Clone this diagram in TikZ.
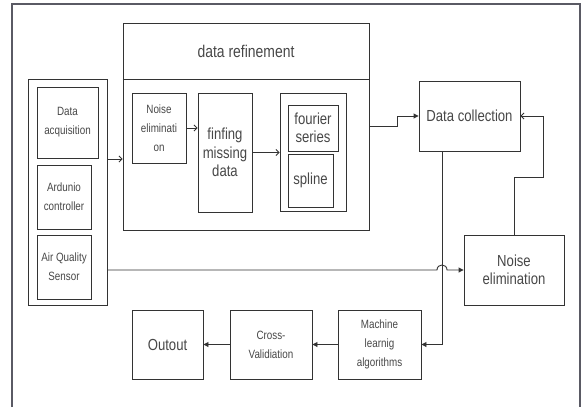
\documentclass[tikz,border=0pt]{standalone}
\usepackage{fontspec}
\setmainfont[FakeStretch=0.82]{Liberation Sans}
\usetikzlibrary{arrows.meta}
\definecolor{ln}{HTML}{333333}
\definecolor{tx}{HTML}{474747}
\definecolor{fr}{HTML}{5A5A64}
\tikzset{
  box/.style={draw=ln, line width=0.9pt, inner sep=0pt, rectangle},
  small/.style={font=\fontsize{12}{19}\selectfont, text=tx, align=center},
  big/.style={font=\fontsize{16}{18.5}\selectfont, text=tx, align=center},
  conn/.style={draw=ln, line width=0.9pt},
  fa/.style={conn, -{Triangle[length=5pt,width=5pt]}},
  oa/.style={conn, -{Straight Barb[length=3pt,width=6pt]}}
}
\begin{document}
\begin{tikzpicture}[x=1pt,y=-1pt]
\useasboundingbox (0,0) rectangle (585,407);
% outer frame
\draw[fr, line width=1.3pt] (12,407) -- (12,4) -- (580,4) -- (580,407);

% left group
\node[box, minimum width=79pt, minimum height=226pt] (grp) at (67.5,192) {};
\node[box, small, minimum width=61pt, minimum height=71pt] (dacq) at (67.5,122.5) {Data\\acquisition};
\node[box, small, minimum width=54pt, minimum height=64pt] (ard) at (64,197) {Ardunio\\controller};
\node[box, small, minimum width=54pt, minimum height=64pt] (aqs) at (64,267) {Air Quality\\Sensor};

% data refinement container
\node[box, minimum width=246pt, minimum height=207pt] (ref) at (246,126.5) {};
\coordinate (hdr) at (0,79);
\draw[conn] (ref.west |- hdr) -- (ref.east |- hdr);
\node[big, font=\fontsize{17}{20}\selectfont] (reft) at (246,51) {data refinement};

\node[box, small, minimum width=54pt, minimum height=70pt] (ne1) at (159,128) {Noise\\eliminati\\on};
\node[box, big, minimum width=54pt, minimum height=119pt] (fmd) at (225,152.5) {finfing\\missing\\data};
\node[box, minimum width=66pt, minimum height=118pt] (fsg) at (313,152) {};
\node[box, big, minimum width=50pt, minimum height=46pt] (fs) at (313,128) {fourier\\series};
\node[box, big, minimum width=45pt, minimum height=53pt] (sp) at (310.5,180.5) {spline};

% right side
\node[box, big, minimum width=101pt, minimum height=70pt] (dc) at (469.5,116) {Data collection};
\node[box, big, minimum width=100pt, minimum height=70pt] (ne2) at (514,270) {Noise\\elimination};

% bottom row
\node[box, small, minimum width=83pt, minimum height=69pt] (ml) at (379.5,344.5) {Machine\\learnig\\algorithms};
\node[box, small, minimum width=82pt, minimum height=69pt] (cv) at (271,344.5) {Cross-\\Validiation};
\node[box, big, minimum width=71pt, minimum height=69pt] (out) at (167.5,344.5) {Outout};

% connectors
\coordinate (y159) at (0,159);
\draw[oa] (grp.east |- y159) -- (ref.west |- y159);
\draw[oa] (ne1.east) -- (fmd.west |- ne1.east);
\draw[oa] (fmd.east) -- (fsg.west |- fmd.east);
\draw[fa] (ref.east) -- ++(28,0) |- (dc.west);
\coordinate (hx) at (442,151);
\draw[fa] (hx) |- (ml.east);
\draw[oa] (ne2.north) -- ++(0,-57) -- ++(29,0) |- (dc.east);
\coordinate (hopL) at (437,270);
\coordinate (hopR) at (447,270);
\draw[fa] (grp.east |- ne2.west) -- (hopL) .. controls (437,263.3) and (447,263.3) .. (hopR) -- (ne2.west);
\draw[fa] (ml.west) -- (cv.east);
\draw[fa] (cv.west) -- (out.east);
\end{tikzpicture}
\end{document}
